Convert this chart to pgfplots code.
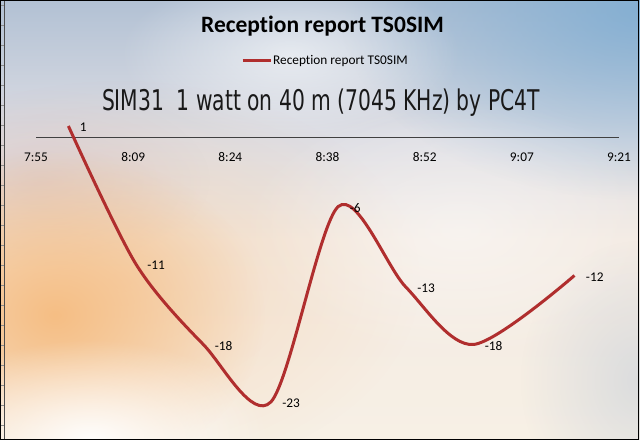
\documentclass[border=0pt]{standalone}
\usepackage{pgfplots}
\pgfplotsset{compat=1.18}
\usepackage{fontspec}
\usepackage{graphicx}
\setmainfont{Carlito}[Ligatures=NoCommon]
\newfontfamily\subfont{DejaVu Sans Condensed}
\usetikzlibrary{fadings}
\tikzfading[name=glow, inner color=transparent!0, outer color=transparent!100]
\definecolor{linered}{RGB}{176,46,46}
\definecolor{skytop}{RGB}{178,193,212}
\definecolor{skyupper}{RGB}{222,222,228}
\definecolor{skymid}{RGB}{243,234,226}
\definecolor{skybot}{RGB}{247,240,229}
\definecolor{lavender}{RGB}{214,198,206}
\definecolor{peach}{RGB}{246,190,132}
\definecolor{skyblue}{RGB}{125,172,210}
\definecolor{axisgrey}{RGB}{64,64,64}
\begin{document}
\begin{tikzpicture}[x=1bp,y=1bp]
\useasboundingbox (0,0) rectangle (640,440);
% background sky
\shade[top color=skymid, bottom color=skybot] (0,0) rectangle (640,200);
\shade[top color=skyupper, bottom color=skymid] (0,200) rectangle (640,300);
\shade[top color=skytop, bottom color=skyupper] (0,300) rectangle (640,440);
\begin{scope}
\clip (0,0) rectangle (640,440);
\fill[skyblue, path fading=glow, fill opacity=0.85] (640,430) ellipse (300 and 190);
\fill[white, path fading=glow, fill opacity=0.6] (290,385) ellipse (170 and 85);
\fill[lavender, path fading=glow, fill opacity=0.6] (40,260) ellipse (170 and 90);
\fill[peach, path fading=glow, fill opacity=0.35] (120,160) ellipse (300 and 200);
\fill[peach, path fading=glow, fill opacity=1] (55,125) ellipse (210 and 165);
\fill[white, path fading=glow, fill opacity=0.95] (90,0) ellipse (180 and 100);
\fill[white, path fading=glow, fill opacity=0.45] (460,210) ellipse (220 and 130);
\fill[skytop, path fading=glow, fill opacity=0.4] (640,60) ellipse (120 and 140);
\end{scope}
% sheet edge
\draw[black!70, line width=0.8bp] (4,0) -- (4,440);
\foreach \yy in {5,25,...,435} \draw[black!45, line width=0.6bp] (0,440-\yy) -- (4,440-\yy);
\begin{axis}[
  at={(36bp,15bp)}, anchor=south west,
  scale only axis, width=583bp, height=310.5bp,
  xmin=55.2, xmax=141.6, ymin=-25, ymax=2,
  axis x line=middle, axis y line=none,
  axis line style={-}, x axis line style={-, draw=axisgrey, line width=0.9bp},
  xtick={55.2,69.6,84,98.4,112.8,127.2,141.6},
  xticklabels={7:55,8:09,8:24,8:38,8:52,9:07,9:21},
  major tick length=0pt,
  xticklabel style={anchor=center, yshift=-19.5bp, font=\fontsize{13.3bp}{15bp}\selectfont, text=black},
  clip=false,
  legend style={at={(0.3516,1.1733)}, anchor=west, draw=none, fill=none, inner sep=0pt,
    font=\fontsize{13.3bp}{15bp}\selectfont, nodes={inner sep=1bp}},
  legend cell align=left,
]
\addlegendimage{legend image code/.code={\draw[linered, line width=3bp] (0bp,0bp) -- (28bp,0bp);}}
\addlegendentry{Reception report TS0SIM}
\addplot[linered, line width=3bp, smooth, forget plot,
  nodes near coords, point meta=explicit symbolic,
  every node near coord/.append style={anchor=west, xshift=10bp, yshift=-1.5bp, inner sep=0pt,
    font=\fontsize{13.3bp}{15bp}\selectfont, text=black}]
coordinates {
(60,1) [1]
(70,-11) [-11]
(80,-18) [-18]
(90,-23) [-23]
(100,-6) [-6]
(110,-13) [-13]
(120,-18) [-18]
(135,-12) [-12]
};
\end{axis}
\node[anchor=base, font=\fontsize{23.5bp}{28bp}\selectfont\bfseries, inner sep=0pt] at (322.5,407.3) {Reception report TS0SIM};
\node[anchor=base, inner sep=0pt, text=black!90] at (321,329.3) {\resizebox{438bp}{\height}{\subfont\fontsize{28.5bp}{34bp}\selectfont SIM31\ \ 1 watt on 40 m (7045 KHz) by PC4T}};
\draw[black, line width=1.2bp] (0.6,0.5) rectangle (638.5,439.4);
\end{tikzpicture}
\end{document}
